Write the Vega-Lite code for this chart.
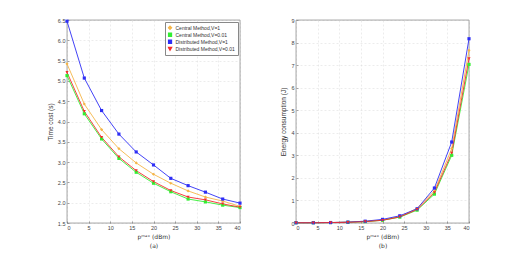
{
  "$schema": "https://vega.github.io/schema/vega-lite/v6.json",
  "padding": {"left": 47, "top": 17, "right": 5, "bottom": 5},
  "background": "white",
  "spacing": 37,
  "datasets": {
    "time": [
      {"p": 0, "method": "Central Method,V=1", "v": 5.42},
      {"p": 4, "method": "Central Method,V=1", "v": 4.43},
      {"p": 8, "method": "Central Method,V=1", "v": 3.80},
      {"p": 12, "method": "Central Method,V=1", "v": 3.33},
      {"p": 16, "method": "Central Method,V=1", "v": 2.98},
      {"p": 20, "method": "Central Method,V=1", "v": 2.70},
      {"p": 24, "method": "Central Method,V=1", "v": 2.48},
      {"p": 28, "method": "Central Method,V=1", "v": 2.29},
      {"p": 32, "method": "Central Method,V=1", "v": 2.14},
      {"p": 36, "method": "Central Method,V=1", "v": 2.04},
      {"p": 40, "method": "Central Method,V=1", "v": 1.91},
      {"p": 0, "method": "Central Method,V=0.01", "v": 5.13},
      {"p": 4, "method": "Central Method,V=0.01", "v": 4.19},
      {"p": 8, "method": "Central Method,V=0.01", "v": 3.57},
      {"p": 12, "method": "Central Method,V=0.01", "v": 3.09},
      {"p": 16, "method": "Central Method,V=0.01", "v": 2.75},
      {"p": 20, "method": "Central Method,V=0.01", "v": 2.48},
      {"p": 24, "method": "Central Method,V=0.01", "v": 2.27},
      {"p": 28, "method": "Central Method,V=0.01", "v": 2.09},
      {"p": 32, "method": "Central Method,V=0.01", "v": 2.02},
      {"p": 36, "method": "Central Method,V=0.01", "v": 1.94},
      {"p": 40, "method": "Central Method,V=0.01", "v": 1.88},
      {"p": 0, "method": "Distributed Method,V=1", "v": 6.47},
      {"p": 4, "method": "Distributed Method,V=1", "v": 5.07},
      {"p": 8, "method": "Distributed Method,V=1", "v": 4.27},
      {"p": 12, "method": "Distributed Method,V=1", "v": 3.69},
      {"p": 16, "method": "Distributed Method,V=1", "v": 3.25},
      {"p": 20, "method": "Distributed Method,V=1", "v": 2.93},
      {"p": 24, "method": "Distributed Method,V=1", "v": 2.60},
      {"p": 28, "method": "Distributed Method,V=1", "v": 2.42},
      {"p": 32, "method": "Distributed Method,V=1", "v": 2.26},
      {"p": 36, "method": "Distributed Method,V=1", "v": 2.09},
      {"p": 40, "method": "Distributed Method,V=1", "v": 1.99},
      {"p": 0, "method": "Distributed Method,V=0.01", "v": 5.21},
      {"p": 4, "method": "Distributed Method,V=0.01", "v": 4.25},
      {"p": 8, "method": "Distributed Method,V=0.01", "v": 3.61},
      {"p": 12, "method": "Distributed Method,V=0.01", "v": 3.13},
      {"p": 16, "method": "Distributed Method,V=0.01", "v": 2.79},
      {"p": 20, "method": "Distributed Method,V=0.01", "v": 2.52},
      {"p": 24, "method": "Distributed Method,V=0.01", "v": 2.30},
      {"p": 28, "method": "Distributed Method,V=0.01", "v": 2.14},
      {"p": 32, "method": "Distributed Method,V=0.01", "v": 2.07},
      {"p": 36, "method": "Distributed Method,V=0.01", "v": 1.97},
      {"p": 40, "method": "Distributed Method,V=0.01", "v": 1.89}
    ],
    "energy": [
      {"p": 0, "method": "Central Method,V=1", "v": 0.01},
      {"p": 4, "method": "Central Method,V=1", "v": 0.01},
      {"p": 8, "method": "Central Method,V=1", "v": 0.02},
      {"p": 12, "method": "Central Method,V=1", "v": 0.04},
      {"p": 16, "method": "Central Method,V=1", "v": 0.07},
      {"p": 20, "method": "Central Method,V=1", "v": 0.13},
      {"p": 24, "method": "Central Method,V=1", "v": 0.28},
      {"p": 28, "method": "Central Method,V=1", "v": 0.65},
      {"p": 32, "method": "Central Method,V=1", "v": 1.42},
      {"p": 36, "method": "Central Method,V=1", "v": 3.3},
      {"p": 40, "method": "Central Method,V=1", "v": 7.66},
      {"p": 0, "method": "Central Method,V=0.01", "v": 0.01},
      {"p": 4, "method": "Central Method,V=0.01", "v": 0.01},
      {"p": 8, "method": "Central Method,V=0.01", "v": 0.02},
      {"p": 12, "method": "Central Method,V=0.01", "v": 0.03},
      {"p": 16, "method": "Central Method,V=0.01", "v": 0.06},
      {"p": 20, "method": "Central Method,V=0.01", "v": 0.12},
      {"p": 24, "method": "Central Method,V=0.01", "v": 0.26},
      {"p": 28, "method": "Central Method,V=0.01", "v": 0.57},
      {"p": 32, "method": "Central Method,V=0.01", "v": 1.28},
      {"p": 36, "method": "Central Method,V=0.01", "v": 3.0},
      {"p": 40, "method": "Central Method,V=0.01", "v": 7.03},
      {"p": 0, "method": "Distributed Method,V=1", "v": 0.01},
      {"p": 4, "method": "Distributed Method,V=1", "v": 0.01},
      {"p": 8, "method": "Distributed Method,V=1", "v": 0.02},
      {"p": 12, "method": "Distributed Method,V=1", "v": 0.04},
      {"p": 16, "method": "Distributed Method,V=1", "v": 0.08},
      {"p": 20, "method": "Distributed Method,V=1", "v": 0.16},
      {"p": 24, "method": "Distributed Method,V=1", "v": 0.32},
      {"p": 28, "method": "Distributed Method,V=1", "v": 0.63},
      {"p": 32, "method": "Distributed Method,V=1", "v": 1.55},
      {"p": 36, "method": "Distributed Method,V=1", "v": 3.59},
      {"p": 40, "method": "Distributed Method,V=1", "v": 8.17},
      {"p": 0, "method": "Distributed Method,V=0.01", "v": 0.01},
      {"p": 4, "method": "Distributed Method,V=0.01", "v": 0.01},
      {"p": 8, "method": "Distributed Method,V=0.01", "v": 0.02},
      {"p": 12, "method": "Distributed Method,V=0.01", "v": 0.03},
      {"p": 16, "method": "Distributed Method,V=0.01", "v": 0.06},
      {"p": 20, "method": "Distributed Method,V=0.01", "v": 0.12},
      {"p": 24, "method": "Distributed Method,V=0.01", "v": 0.27},
      {"p": 28, "method": "Distributed Method,V=0.01", "v": 0.6},
      {"p": 32, "method": "Distributed Method,V=0.01", "v": 1.35},
      {"p": 36, "method": "Distributed Method,V=0.01", "v": 3.1},
      {"p": 40, "method": "Distributed Method,V=0.01", "v": 7.29}
    ]
  },
  "config": {
    "font": "Liberation Sans",
    "view": {"stroke": "#555555", "strokeWidth": 0.6},
    "axis": {
      "labelFontSize": 5.5,
      "titleFontSize": 6.5,
      "titleFontWeight": "normal",
      "labelColor": "#444444",
      "titleColor": "#333333",
      "titleLineHeight": 9,
      "domain": false,
      "tickColor": "#555555",
      "tickSize": -2,
      "tickWidth": 0.5,
      "labelPadding": 4,
      "gridColor": "#d8d8d8",
      "gridDash": [2, 2],
      "gridWidth": 0.5
    },
    "legend": {
      "labelFontSize": 5,
      "labelColor": "#333333",
      "symbolSize": 8,
      "rowPadding": 0,
      "clipHeight": 6.5,
      "labelOffset": 3,
      "strokeColor": "#888888",
      "fillColor": "white",
      "padding": 2.5,
      "offset": 2
    }
  },
  "resolve": {"legend": {"color": "independent", "shape": "independent"}},
  "hconcat": [
    {
      "width": 173,
      "height": 203,
      "data": {"name": "time"},
      "encoding": {
        "x": {"field": "p", "type": "quantitative", "scale": {"domain": [0, 40], "nice": false},
          "axis": {"values": [0, 5, 10, 15, 20, 25, 30, 35, 40], "title": ["pᵐᵃˣ (dBm)", "(a)"], "titlePadding": 3, "titleColor": "#333333", "titleFont": "DejaVu Sans", "titleFontSize": 6}},
        "y": {"field": "v", "type": "quantitative", "scale": {"domain": [1.5, 6.5], "nice": false, "zero": false},
          "axis": {"values": [1.5, 2, 2.5, 3, 3.5, 4, 4.5, 5, 5.5, 6, 6.5], "title": "Time cost (s)", "titlePadding": 4}},
        "color": {"field": "method", "type": "nominal",
          "scale": {"domain": ["Central Method,V=1", "Central Method,V=0.01", "Distributed Method,V=1", "Distributed Method,V=0.01"],
            "range": ["#F5B547", "#33EE33", "#2E2EF5", "#F52A2A"]},
          "legend": {"orient": "top-right", "title": null}}
      },
      "layer": [
        {"mark": {"type": "line", "strokeWidth": 0.9}},
        {"mark": {"type": "point", "filled": true, "size": 10, "opacity": 1},
          "encoding": {"shape": {"field": "method", "type": "nominal",
            "scale": {"domain": ["Central Method,V=1", "Central Method,V=0.01", "Distributed Method,V=1", "Distributed Method,V=0.01"],
              "range": ["diamond", "square", "square", "triangle-down"]},
            "legend": {"orient": "top-right", "title": null}}}}
      ]
    },
    {
      "width": 173,
      "height": 203,
      "data": {"name": "energy"},
      "encoding": {
        "x": {"field": "p", "type": "quantitative", "scale": {"domain": [0, 40], "nice": false},
          "axis": {"values": [0, 5, 10, 15, 20, 25, 30, 35, 40], "title": ["pᵐᵃˣ (dBm)", "(b)"], "titlePadding": 3, "titleColor": "#333333", "titleFont": "DejaVu Sans", "titleFontSize": 6}},
        "y": {"field": "v", "type": "quantitative", "scale": {"domain": [0, 9], "nice": false},
          "axis": {"values": [0, 1, 2, 3, 4, 5, 6, 7, 8, 9], "title": "Energy consumption (J)", "titlePadding": 4}},
        "color": {"field": "method", "type": "nominal",
          "scale": {"domain": ["Central Method,V=1", "Central Method,V=0.01", "Distributed Method,V=1", "Distributed Method,V=0.01"],
            "range": ["#F5B547", "#33EE33", "#2E2EF5", "#F52A2A"]},
          "legend": null}
      },
      "layer": [
        {"mark": {"type": "line", "strokeWidth": 0.9}},
        {"mark": {"type": "point", "filled": true, "size": 10, "opacity": 1},
          "encoding": {"shape": {"field": "method", "type": "nominal",
            "scale": {"domain": ["Central Method,V=1", "Central Method,V=0.01", "Distributed Method,V=1", "Distributed Method,V=0.01"],
              "range": ["diamond", "square", "square", "triangle-down"]},
            "legend": null}}}
      ]
    }
  ]
}
